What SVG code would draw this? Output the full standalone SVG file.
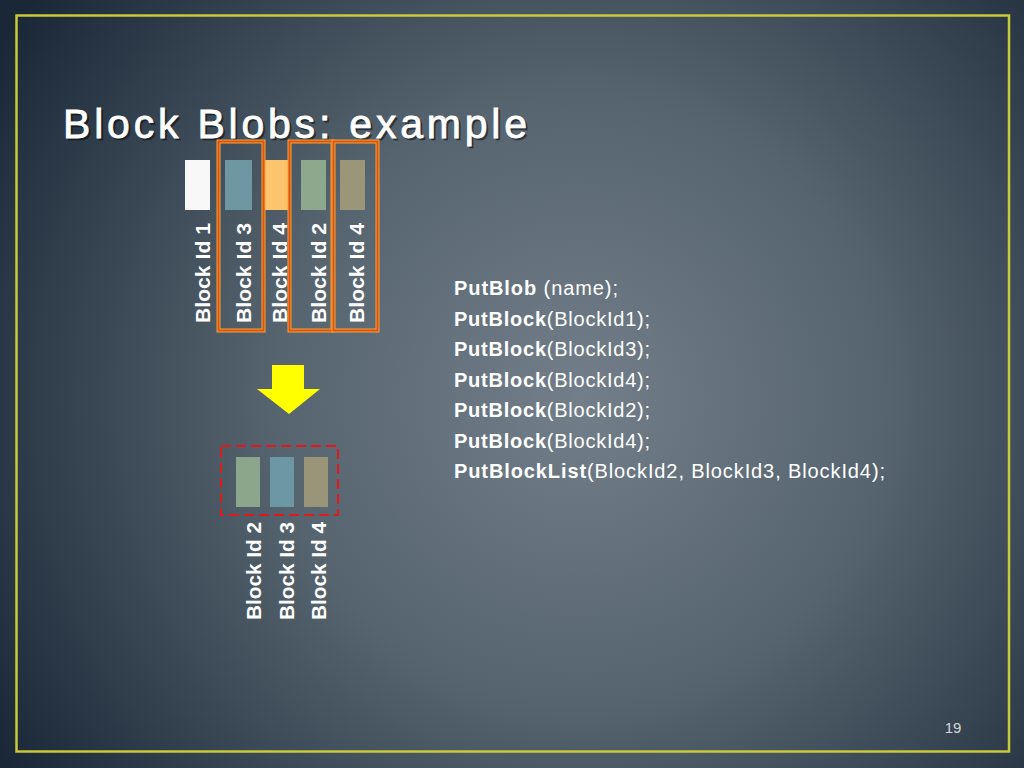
<svg xmlns="http://www.w3.org/2000/svg" width="1024" height="768" viewBox="0 0 1024 768">
<defs>
<radialGradient id="bg" gradientUnits="userSpaceOnUse" cx="580" cy="400" r="680">
<stop offset="0" stop-color="#727f8a"/>
<stop offset="0.45" stop-color="#56646f"/>
<stop offset="1" stop-color="#1a2737"/>
</radialGradient>
<style>
.lbl{font-family:"Liberation Sans",Arial,sans-serif;font-weight:bold;font-size:21px;fill:#ffffff;text-anchor:middle;dominant-baseline:central}
.code{font-family:"Liberation Sans",Arial,sans-serif;font-size:20px;fill:#ffffff}
.code tspan.b{font-weight:bold}
.hl-o{fill:none;stroke:#f2a43a;stroke-width:4}
.hl-i{fill:none;stroke:#e2520c;stroke-width:2}
</style>
</defs>
<rect x="0" y="0" width="1024" height="768" fill="url(#bg)"/>
<rect x="16.5" y="15.5" width="992.5" height="736" fill="none" stroke="#c9c93a" stroke-width="2.5"/>
<g id="title">
<text x="65" y="140" font-family="Liberation Sans, Arial, sans-serif" font-size="41" fill="#000000" fill-opacity="0.45" stroke="#000000" stroke-opacity="0.3" stroke-width="0.8" textLength="464" lengthAdjust="spacing">Block Blobs: example</text>
<text x="63" y="138" font-family="Liberation Sans, Arial, sans-serif" font-size="41" fill="#ffffff" stroke="#ffffff" stroke-width="0.8" textLength="464" lengthAdjust="spacing">Block Blobs: example</text>
</g>
<g id="top-blocks">
<g id="block1"><rect x="185" y="160" width="25" height="50" fill="#f8f8f8"/><text class="lbl" transform="translate(202,273) rotate(-90)" textLength="100" lengthAdjust="spacingAndGlyphs">Block Id 1</text></g>
<g id="block3"><rect x="225" y="160" width="27" height="50" fill="#6e97a2"/><text class="lbl" transform="translate(243,273) rotate(-90)" textLength="100" lengthAdjust="spacingAndGlyphs">Block Id 3</text></g>
<g id="block4a"><rect x="264" y="160" width="24" height="50" fill="#fdc46e"/><text class="lbl" transform="translate(279,273) rotate(-90)" textLength="100" lengthAdjust="spacingAndGlyphs">Block Id 4</text></g>
<g id="block2"><rect x="301" y="160" width="25" height="50" fill="#8ea88e"/><text class="lbl" transform="translate(318,273) rotate(-90)" textLength="100" lengthAdjust="spacingAndGlyphs">Block Id 2</text></g>
<g id="block4b"><rect x="340" y="160" width="25" height="50" fill="#9c9679"/><text class="lbl" transform="translate(356,273) rotate(-90)" textLength="100" lengthAdjust="spacingAndGlyphs">Block Id 4</text></g>
</g>
<g id="highlights">
<rect class="hl-o" x="218.5" y="141.5" width="45" height="189"/>
<rect class="hl-i" x="218.5" y="141.5" width="45" height="189"/>
<rect class="hl-o" x="289.5" y="141.5" width="43" height="189"/>
<rect class="hl-i" x="289.5" y="141.5" width="43" height="189"/>
<rect class="hl-o" x="333.5" y="141.5" width="44" height="189"/>
<rect class="hl-i" x="333.5" y="141.5" width="44" height="189"/>
</g>
<g id="connectors">
<polygon points="272,365 304,365 304,389 320,389 289,414 257,389 272,389" fill="#ffff00"/>
</g>
<g id="result">
<rect x="221" y="446" width="117" height="69" fill="none" stroke="#e01a1a" stroke-width="2" stroke-dasharray="10,5"/>
<g id="rblock2"><rect x="236" y="457" width="24" height="50" fill="#8ca68c"/><text class="lbl" transform="translate(253,571) rotate(-90)" textLength="98" lengthAdjust="spacingAndGlyphs">Block Id 2</text></g>
<g id="rblock3"><rect x="270" y="457" width="24" height="50" fill="#6d97a3"/><text class="lbl" transform="translate(286,571) rotate(-90)" textLength="98" lengthAdjust="spacingAndGlyphs">Block Id 3</text></g>
<g id="rblock4"><rect x="304" y="457" width="24" height="50" fill="#9a9478"/><text class="lbl" transform="translate(318,571) rotate(-90)" textLength="98" lengthAdjust="spacingAndGlyphs">Block Id 4</text></g>
</g>
<g id="code">
<text class="code" x="454" y="295" textLength="164" lengthAdjust="spacing"><tspan class="b">PutBlob</tspan> (name);</text>
<text class="code" x="454" y="325.5" textLength="196" lengthAdjust="spacing"><tspan class="b">PutBlock</tspan>(BlockId1);</text>
<text class="code" x="454" y="356" textLength="196" lengthAdjust="spacing"><tspan class="b">PutBlock</tspan>(BlockId3);</text>
<text class="code" x="454" y="386.5" textLength="196" lengthAdjust="spacing"><tspan class="b">PutBlock</tspan>(BlockId4);</text>
<text class="code" x="454" y="417" textLength="196" lengthAdjust="spacing"><tspan class="b">PutBlock</tspan>(BlockId2);</text>
<text class="code" x="454" y="447.5" textLength="196" lengthAdjust="spacing"><tspan class="b">PutBlock</tspan>(BlockId4);</text>
<text class="code" x="454" y="478" textLength="431" lengthAdjust="spacing"><tspan class="b">PutBlockList</tspan>(BlockId2, BlockId3, BlockId4);</text>
</g>
<text x="953" y="733" font-family="Liberation Sans, Arial, sans-serif" font-size="15" fill="#d4d8dc" text-anchor="middle">19</text>
</svg>
